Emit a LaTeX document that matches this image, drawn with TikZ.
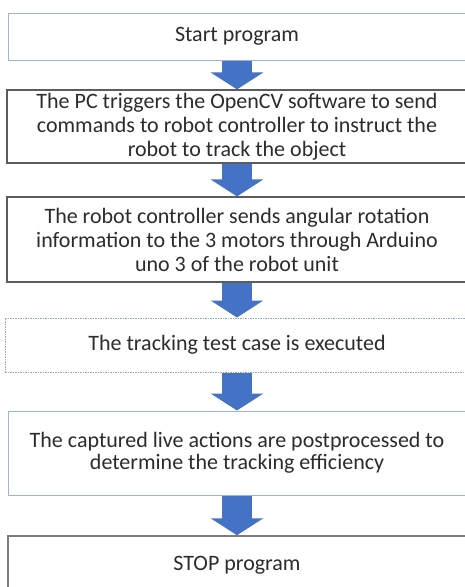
\documentclass[tikz,border=0pt]{standalone}
\usepackage{fontspec}
\setmainfont{Carlito}
\usetikzlibrary{arrows.meta}

\definecolor{arrowblue}{HTML}{4472C4}
\definecolor{textgray}{HTML}{2C2C2C}
\definecolor{lightedge}{HTML}{9CB2D8}
\definecolor{darkedge}{HTML}{5C5C5C}

\tikzset{
  stepbox/.style={rectangle, draw, fill=white, text=textgray, align=center,
    inner sep=0pt, font=\fontsize{22}{24}\selectfont},
  flow/.style={arrowblue, line width=30pt,
    -{Triangle[width=52pt,length=17pt]}}
}

\begin{document}
\begin{tikzpicture}[x=1pt,y=-1pt]
\useasboundingbox (0,0) rectangle (465,587);
\clip (0,0) rectangle (465,587);

% ---------- boxes ----------
\node[stepbox, draw=lightedge, line width=1pt, minimum width=458pt, minimum height=47pt]
  (start) at (237,36.5) {Start program};

\node[stepbox, draw=darkedge, line width=1.2pt, minimum width=460pt, minimum height=73pt]
  (trigger) at (237,126.5) {The PC triggers the OpenCV software to send\\
  commands to robot controller to instruct the\\ robot to track the object};

\node[stepbox, draw=darkedge, line width=1.2pt, minimum width=460pt, minimum height=85pt]
  (rotate) at (237,239.5) {The robot controller sends angular rotation\\
  information to the 3 motors through Arduino\\ uno 3 of the robot unit};

\node[stepbox, draw=lightedge!80!gray, line width=1pt, dash pattern=on 1.5pt off 1pt,
  minimum width=464pt, minimum height=54pt]
  (test) at (237,345) {The tracking test case is executed};

\node[stepbox, draw=lightedge, line width=1pt, minimum width=458pt, minimum height=84pt,
  font=\fontsize{22}{22}\selectfont]
  (post) at (237,453) {The captured live actions are postprocessed to\\
  determine the tracking efficiency};

\node[stepbox, draw=darkedge!80, line width=1.5pt, minimum width=458pt, minimum height=58pt]
  (stop) at (237,565) {STOP program};

% ---------- arrows ----------
\draw[flow] (start.south) -- (trigger.north);
\draw[flow] (trigger.south) -- (rotate.north);
\draw[flow] (rotate.south) -- (test.north);
\draw[flow] (test.south) -- (post.north);
\draw[flow] (post.south) -- (stop.north);

\end{tikzpicture}
\end{document}
